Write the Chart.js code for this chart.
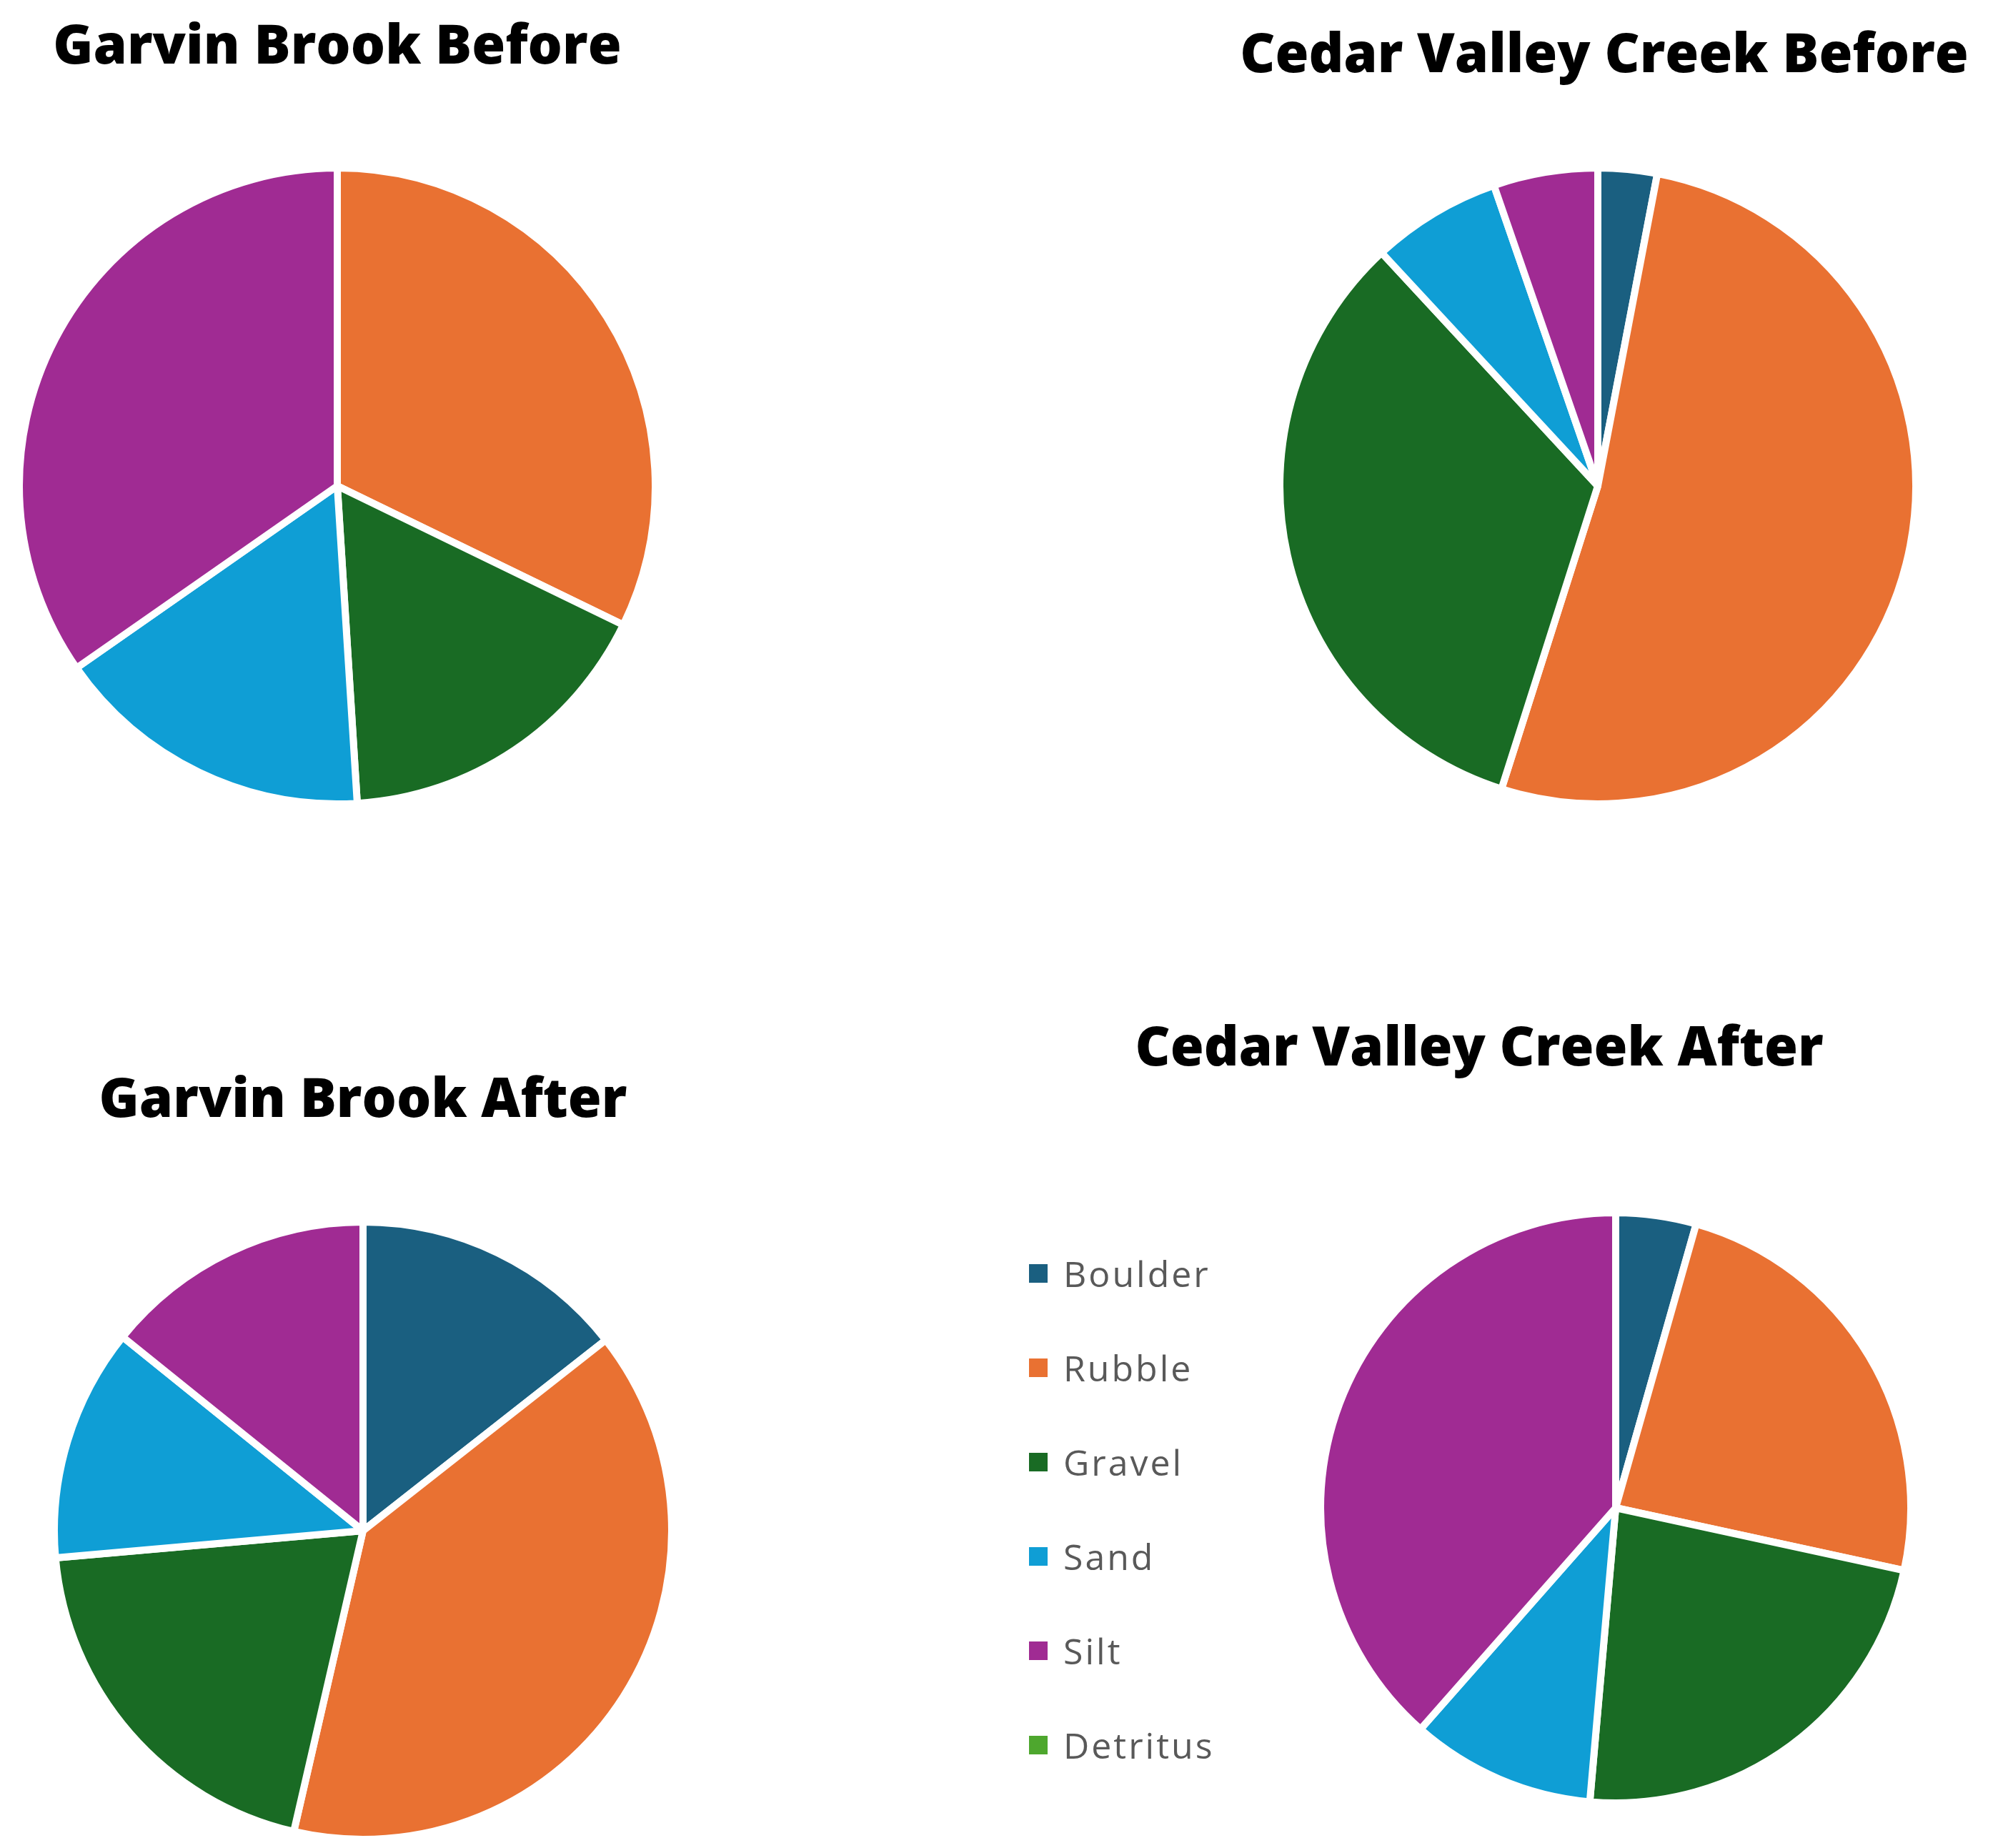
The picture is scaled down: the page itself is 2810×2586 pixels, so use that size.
<!DOCTYPE html>
<html>
<head>
<meta charset="utf-8">
<script src="https://cdn.jsdelivr.net/npm/chart.js@4"></script>
<style>
  body { margin: 0; background: #fff; width: 2810px; height: 2586px; position: relative; overflow: hidden; }
  .title { position: absolute; font-family: "Open Sans", sans-serif; font-weight: 800; font-size: 76px; color: #000; transform: translateX(-50%); white-space: nowrap; }
  canvas { position: absolute; }
  #legend { position: absolute; left: 1440px; top: 1716px; font-family: "Open Sans", sans-serif; font-size: 50px; color: #595959; letter-spacing: 3px; }
  #legend div { height: 132px; display: flex; align-items: center; }
  #legend span.box { display: inline-block; width: 26px; height: 26px; margin-right: 22px; }
</style>
</head>
<body>
<div class="title" style="left:472px; top:8px">Garvin Brook Before</div>
<div class="title" style="left:2245px; top:20px">Cedar Valley Creek Before</div>
<div class="title" style="left:508px; top:1482px">Garvin Brook After</div>
<div class="title" style="left:2070px; top:1410px">Cedar Valley Creek After</div>
<canvas id="c1"></canvas>
<canvas id="c2"></canvas>
<canvas id="c3"></canvas>
<canvas id="c4"></canvas>
<div id="legend"></div>
<script>
// Substrate composition (%)
const categories = ['Boulder', 'Rubble', 'Gravel', 'Sand', 'Silt', 'Detritus'];
const colors = ['#1a5f80', '#e97132', '#196b24', '#0f9ed5', '#a02b93', '#4ea72e'];

const garvinBefore = [0, 32.2, 16.8, 16.3, 34.7, 0];
const cedarBefore = [3.0, 51.9, 33.2, 6.6, 5.3, 0];
const garvinAfter = [14.4, 39.2, 20.0, 12.2, 14.2, 0];
const cedarAfter = [4.4, 24.0, 23.0, 10.1, 38.5, 0];

// canvas placement: [left, top, size]
function drawPie(id, values, box) {
  const canvas = document.getElementById(id);
  canvas.style.left = box[0] + 'px';
  canvas.style.top = box[1] + 'px';
  canvas.width = box[2];
  canvas.height = box[2];
  new Chart(canvas, {
    type: 'pie',
    data: {
      labels: categories,
      datasets: [{ data: values, backgroundColor: colors, borderColor: '#ffffff', borderWidth: 10 }],
    },
    options: {
      responsive: false,
      devicePixelRatio: 1,
      animation: false,
      layout: { padding: 0 },
      plugins: { legend: { display: false }, tooltip: { enabled: false } },
    },
  });
}

drawPie('c1', garvinBefore, [22, 230, 900]);
drawPie('c2', cedarBefore, [1786, 230, 900]);
drawPie('c3', garvinAfter, [71, 1705, 874]);
drawPie('c4', cedarAfter, [1843, 1692, 836]);

const legend = document.getElementById('legend');
categories.forEach((c, i) => {
  const row = document.createElement('div');
  row.innerHTML = `<span class="box" style="background:${colors[i]}"></span>${c}`;
  legend.appendChild(row);
});
</script>
</body>
</html>
